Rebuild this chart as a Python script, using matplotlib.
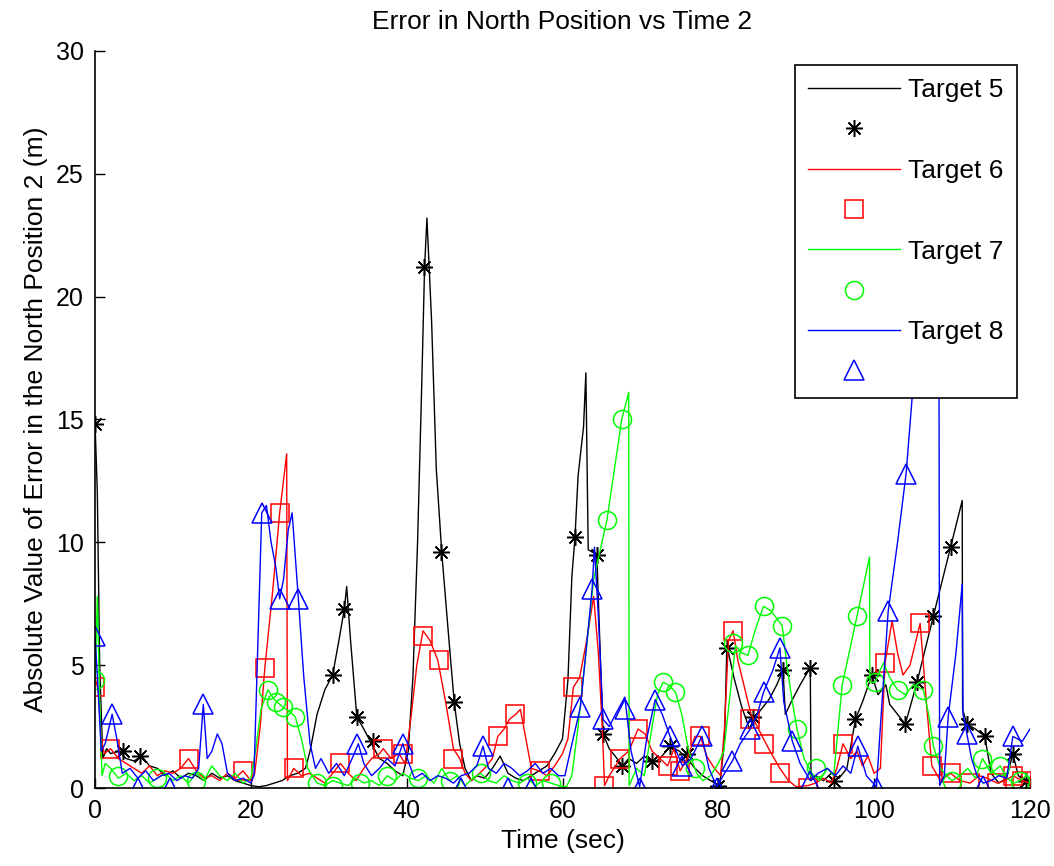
import matplotlib
matplotlib.use("Agg")
import matplotlib.pyplot as plt
from matplotlib.lines import Line2D

plt.rcParams['font.family'] = ['Liberation Sans', 'DejaVu Sans']

# Target 5 (black)
t5_time = [0, 0.3, 0.6, 1.0, 1.5, 2, 3, 4, 5, 6,
           7, 8, 9, 10, 11, 12, 13, 14, 15, 16,
           17, 18, 19, 20, 21, 22, 23, 24, 25, 26,
           27, 27.6, 28.5, 29.5, 30.5, 31.3, 32, 32.3, 32.8, 33.6,
           34.5, 35.5, 36.5, 37.5, 38.5, 39.5, 40.2, 40.8, 41.4, 41.9,
           42.3, 42.6, 43.2, 43.8, 44.5, 45.3, 46.1, 46.8, 47.5, 48.3,
           49, 50, 51, 52, 53, 54, 55, 56, 57, 58,
           59, 60, 60.7, 61.2, 61.6, 62, 62.7, 63.0, 63.3, 64.4,
           65.2, 66, 67, 67.7, 68.5, 69.5, 70.5, 71.5, 72.5, 73.8,
           75, 76, 77, 78, 79, 80.2, 80.8, 81.1, 82, 83,
           84, 84.5, 85.5, 86.5, 87.5, 88.3, 88.6, 89.5, 90.5, 91.8,
           91.9, 92.5, 93.5, 94.5, 95.5, 96.5, 97.6, 98.5, 99.7, 100.5,
           101.5, 102, 103, 104, 105.5, 107.6, 109.8, 111.3, 111.35, 111.9,
           113, 114.2, 115, 116, 117, 117.8, 118.5, 119.3, 120]
t5_err = [14.9, 12, 5, 1.2, 1.6, 1.4, 1.5, 1.2, 1.1, 1.3,
          0.9, 0.8, 0.5, 0.7, 0.4, 0.6, 0.5, 0.3, 0.6, 0.4,
          0.5, 0.3, 0.2, 0.1, 0.05, 0.1, 0.2, 0.3, 0.5, 0.6,
          0.8, 1.5, 3.0, 4.0, 4.6, 6.0, 7.3, 8.2, 6.0, 2.9,
          2.4, 1.8, 1.2, 1.0, 0.7, 0.5, 1.5, 4.5, 10, 16,
          21.2, 23.2, 19, 13, 9.6, 6.5, 3.5, 1.8, 0.8, 0.3,
          0.5, 0.4, 0.8, 1.3, 0.6, 0.4, 0.3, 0.5, 0.7, 0.9,
          1.4, 2.0, 4.4, 8.6, 10.2, 12.7, 14.7, 16.9, 9.7, 9.5,
          2.2, 1.6, 1.2, 0.9, 1.2, 1.0, 1.3, 1.0, 1.2, 1.7,
          1.5, 1.2, 0.8, 0.5, 0.3, 0.1, 2.0, 5.8, 4.5, 3.3,
          2.4, 2.8, 3.2, 3.6, 4.2, 4.8, 3.0, 3.6, 4.2, 4.9,
          0.3, 0.5, 0.3, 0.6, 0.4, 0.8, 2.8, 3.5, 4.6, 3.8,
          4.2, 3.4, 3.0, 2.6, 4.3, 7.0, 9.8, 11.7, 3.2, 2.6,
          2.4, 2.1, 0.6, 0.2, 0.4, 1.4, 0.5, 0.3, 0.2]
t5_mark_time = [0, 3.6, 5.8, 30.5, 32, 33.6, 35.7, 42.2, 44.4, 46.1,
                61.6, 64.4, 65.2, 67.7, 71.5, 73.8, 76, 80, 81.1, 84.5,
                88.3, 91.8, 94.8, 97.6, 99.7, 104, 105.5, 107.6, 109.8, 111.9,
                114.2, 117.8, 119.5]
t5_mark_err = [14.8, 1.5, 1.3, 4.6, 7.3, 2.9, 1.9, 21.2, 9.6, 3.5,
               10.2, 9.5, 2.2, 0.9, 1.1, 1.7, 1.4, 0.1, 5.7, 2.9,
               4.8, 4.9, 0.3, 2.8, 4.6, 2.6, 4.3, 7.0, 9.8, 2.6,
               2.1, 1.4, 0.3]

# Target 6 (red)
t6_time = [0, 0.4, 0.8, 1.2, 2, 3, 4, 5, 6, 7,
           8, 9, 10, 11, 12, 13, 14, 15, 16, 17,
           18, 19, 20, 20.5, 21.2, 21.8, 22.8, 23.7, 24.6, 24.7,
           25.5, 26.5, 27.5, 28.5, 29.5, 30.5, 31.5, 32.5, 33.5, 34.5,
           35.5, 36.5, 37, 38, 39, 39.8, 40.6, 41.3, 42.1, 43,
           44, 45, 46, 46.8, 47.5, 48.3, 49, 50, 51, 51.7,
           52.5, 53.2, 54, 54.6, 55.3, 56, 57, 58, 59, 60,
           60.7, 61.4, 62.2, 63.1, 64, 64.6, 65.1, 65.4, 66, 67.4,
           68.5, 69.7, 70.6, 71.5, 72.5, 73.5, 74.3, 75.1, 76, 77,
           77.7, 78.5, 79.5, 80.3, 80.8, 81.3, 81.9, 82.5, 83.2, 84.2,
           85.8, 86.8, 87.9, 89, 90, 91.5, 92.5, 93.5, 94.5, 95.2,
           96, 97, 97.8, 98.5, 99.2, 100, 100.8, 101.4, 102.3, 103,
           103.7, 104.6, 105.9, 106.7, 107.4, 108.5, 109.8, 111, 112.3, 113.5,
           114.5, 115.8, 116.8, 117.8, 119, 120]
t6_err = [4.5, 4.0, 2.0, 1.4, 1.6, 1.2, 1.0, 0.8, 0.6, 0.9,
          0.5, 0.7, 0.6, 0.8, 1.2, 0.7, 0.4, 0.5, 0.3, 0.6,
          0.4, 0.7, 0.3, 0.6, 2.5, 4.9, 8.0, 11.2, 13.6, 0.3,
          0.8, 0.5, 0.6, 0.4, 0.2, 0.6, 1.0, 0.6, 0.3, 0.8,
          1.2, 1.4, 1.6, 1.2, 1.4, 1.0, 3.0, 5.0, 6.4, 6.0,
          5.2, 3.5, 1.6, 1.2, 0.6, 0.3, 0.5, 0.8, 1.2, 2.1,
          2.4, 2.8, 3.0, 3.2, 2.0, 0.8, 0.7, 0.5, 0.9, 1.4,
          2.0, 4.1, 4.5, 6.0, 7.8, 5.5, 2.5, 0.1, 0.5, 1.2,
          1.5, 2.4, 2.2, 1.5, 1.2, 0.9, 1.6, 0.7, 1.2, 2.1,
          2.1, 1.3, 0.8, 0.5, 2.5, 6.0, 6.4, 5.2, 4.3, 3.0,
          2.0, 1.4, 0.8, 0.3, 0.05, 0.1, 0.2, 0.4, 0.2, 0.8,
          1.8, 1.2, 1.5, 0.9, 1.3, 0.6, 0.8, 5.1, 6.8, 5.5,
          4.6, 5.0, 6.7, 3.5, 0.9, 0.3, 0.6, 0.3, 0.2, 0.5,
          0.4, 0.2, 0.3, 0.5, 0.3, 0.2]
t6_mark_time = [0, 1.9, 12, 19, 21.8, 23.7, 25.5, 31.5, 37, 39.5,
                42.1, 44.2, 46, 51.7, 53.9, 57.1, 61.4, 65.3, 67.4, 69.7,
                73.5, 75.1, 77.7, 81.9, 84, 85.8, 87.9, 91.5, 96, 101.4,
                105.9, 107.4, 109.8, 112.3, 115.8, 117.8, 119]
t6_mark_err = [4.1, 1.6, 1.2, 0.7, 4.9, 11.2, 0.8, 1.0, 1.6, 1.4,
               6.2, 5.2, 1.2, 2.1, 3.0, 0.7, 4.1, 0.1, 1.2, 2.4,
               0.9, 0.7, 2.1, 6.4, 2.8, 1.8, 0.6, 0.0, 1.8, 5.1,
               6.7, 0.9, 0.6, 0.2, 0.2, 0.5, 0.3]

# Target 7 (green)
t7_time = [0, 0.3, 0.6, 0.9, 1.3, 2, 3, 4, 5, 6,
           7, 8, 9, 10, 11, 12, 13, 14, 15, 16,
           17, 18, 19, 20, 20.6, 21.3, 22.2, 23, 24.1, 25,
           25.7, 26.5, 27.3, 28.5, 29.5, 30.5, 31.5, 32.5, 33.5, 34.5,
           35.5, 36.5, 37.5, 38.5, 39.5, 40.5, 41.5, 42.5, 43.5, 44.5,
           45.5, 46.5, 47.5, 48.5, 49.5, 50.5, 51.5, 52.5, 53.5, 54.5,
           55.5, 56.5, 57.5, 58.5, 59.5, 60.5, 61.2, 62, 63, 64,
           65.7, 67.6, 68.5, 68.55, 69.5, 70.5, 71.5, 72.2, 72.9, 73.6,
           74.5, 75.3, 76.2, 77.2, 78, 79, 80, 80.7, 81.4, 82.2,
           83, 83.8, 84.8, 85.8, 86.8, 88.2, 88.8, 89.5, 90.1, 91,
           92, 93, 94, 94.8, 95.9, 97.8, 99.4, 99.45, 100.1, 101.2,
           102, 103, 104, 105, 106.3, 107, 107.6, 108.5, 109.3, 110,
           111, 112, 113, 113.9, 115, 116.2, 117, 118, 118.7, 119.5,
           120]
t7_err = [4.2, 7.8, 3.5, 0.5, 1.0, 0.8, 0.4, 0.6, 0.3, 0.5,
          0.2, 0.4, 0.6, 0.3, 0.5, 0.2, 0.6, 0.3, 0.9, 0.5,
          0.3, 0.6, 0.2, 0.4, 1.5, 3.2, 4.0, 3.6, 3.3, 3.1,
          2.9, 2.0, 0.8, 0.2, 0.1, 0.3, 0.2, 0.1, 0.4, 0.2,
          0.3, 0.1, 0.5, 0.3, 0.6, 0.4, 0.3, 0.5, 0.2, 0.8,
          0.3, 0.5, 0.1, 0.4, 0.6, 0.3, 0.2, 0.5, 0.3, 0.2,
          0.4, 0.1, 0.3, 0.2, 0.1, 0.05, 0.5, 2.5, 5.5, 8.5,
          10.9, 15.0, 16.1, 0.1, 0.8, 0.5, 2.5, 3.8, 4.3, 4.2,
          3.9, 3.0, 1.5, 0.6, 0.3, 0.5, 1.0, 1.5, 3.5, 5.8,
          5.5, 5.4, 6.5, 7.4, 7.2, 6.6, 5.0, 3.5, 2.4, 1.2,
          0.6, 0.3, 0.8, 0.5, 4.2, 7.0, 9.4, 4.3, 4.3, 5.1,
          4.5, 4.0, 3.8, 4.2, 4.0, 3.0, 1.7, 0.8, 0.5, 0.3,
          0.5, 0.8, 0.4, 1.2, 0.6, 0.9, 0.4, 0.2, 0.3, 0.5,
          0.4]
t7_mark_time = [0, 3, 8, 13, 22.2, 23.2, 24.1, 25.7, 28.5, 30.5,
                34, 37.5, 41.5, 45.5, 49.5, 55.5, 58.5, 65.7, 67.6, 72.9,
                74.5, 77, 81.9, 83.8, 85.8, 88.2, 90.1, 92.5, 95.9, 97.8,
                100.1, 103, 106.3, 107.6, 110, 113.9, 116.2, 118.7]
t7_mark_err = [4.4, 0.5, 0.4, 0.3, 4.0, 3.5, 3.3, 2.9, 0.2, 0.1,
               0.2, 0.5, 0.4, 0.3, 0.6, 0.2, 0.2, 10.9, 15.0, 4.3,
               3.9, 0.8, 5.9, 5.4, 7.4, 6.6, 2.4, 0.8, 4.2, 7.0,
               4.3, 4.0, 4.0, 1.7, 0.3, 1.2, 0.9, 0.3]

# Target 8 (blue)
t8_time = [0, 0.4, 0.8, 1.3, 2.2, 2.8, 3.5, 4.5, 5.5, 6.5,
           7.5, 8.5, 9.5, 10.5, 11.5, 12.5, 13.3, 13.9, 14.4, 15,
           15.7, 16.3, 17, 18, 19, 20, 20.4, 21, 21.4, 22,
           22.6, 23.2, 23.7, 24.2, 24.8, 25.3, 26.1, 26.8, 27.6, 28.3,
           29, 30, 31, 32, 33, 33.8, 34.5, 35.5, 36.5, 37.5,
           38.5, 39.5, 40.3, 41, 42, 43, 44, 45, 46, 47,
           48, 49, 49.8, 50.5, 51.5, 52.5, 53.5, 54.5, 55.5, 56.5,
           57.5, 58.5, 59.5, 60.3, 61, 62.3, 63, 63.8, 64.1, 64.6,
           65.2, 66, 66.8, 68, 68.8, 69.9, 70.8, 71.9, 72.8, 73.8,
           74.6, 75.4, 76.5, 77.9, 78.8, 79.8, 80.8, 81.8, 82.8, 84.1,
           85, 85.8, 87, 87.9, 88.4, 89.5, 90.5, 91.8, 92.8, 94,
           95, 96, 97, 97.9, 99, 100.3, 100.8, 101.8, 103, 104.1,
           104.9, 106.5, 108.3, 108.4, 109, 109.5, 110.5, 111.3, 111.4, 111.9,
           112.5, 113.2, 114, 115, 116, 117, 117.8, 119, 120]
t8_err = [6.2, 4.0, 1.5, 1.8, 3.0, 2.0, 0.6, 0.8, 0.4, 0.7,
          0.3, 0.5, 0.6, 0.3, 0.5, 0.4, 0.8, 3.4, 1.2, 1.5,
          2.2, 1.8, 0.6, 0.3, 0.4, 0.2, 0.5, 7.0, 11.2, 11.5,
          10.0, 9.0, 7.7, 8.5, 10.5, 11.2, 7.7, 4.5, 1.8, 0.8,
          1.2, 0.6, 1.0, 0.5, 1.2, 1.8, 1.0, 0.5, 0.8, 1.2,
          0.9, 1.8, 1.0, 0.4, 0.6, 0.3, 0.5, 0.4, 0.2, 0.5,
          0.6, 0.9, 1.7, 0.8, 0.6, 1.0, 0.8, 0.5, 0.7, 1.0,
          0.6, 0.8, 0.5, 0.5, 1.5, 3.3, 5.5, 8.1, 9.8, 7.0,
          2.8, 2.5, 3.0, 3.7, 1.5, 0.05, 2.0, 3.6, 3.0, 2.1,
          1.5, 0.9, 1.2, 2.1, 0.8, 0.05, 0.6, 1.1, 1.8, 2.4,
          3.0, 3.9, 4.8, 5.7, 3.5, 1.9, 1.0, 0.3, 0.6, 0.8,
          0.5, 0.9, 0.6, 1.7, 0.5, 0.05, 2.5, 7.2, 10.0, 12.8,
          16.0, 19.0, 22.0, 0.1, 0.5, 2.9, 5.5, 8.3, 3.0, 2.2,
          1.2, 0.5, 0.2, 0.3, 0.5, 0.4, 2.1, 1.9, 2.4]
t8_mark_time = [0, 2.2, 5.5, 9.6, 13.9, 21.4, 23.7, 26.1, 33.6, 39.5,
                47, 49.8, 53, 56, 62.3, 63.8, 65.2, 68, 69.9, 71.9,
                73.8, 75.4, 77.9, 79.8, 81.8, 84.1, 85.8, 87.9, 89.5, 91.8,
                97.9, 100.3, 101.8, 104.1, 109.5, 111.9, 114, 117.8]
t8_mark_err = [6.2, 3.0, 0.0, 0.0, 3.4, 11.2, 7.7, 7.7, 1.8, 1.8,
               0.0, 1.7, 0.0, 0.0, 3.3, 8.1, 2.8, 3.2, 0.0, 3.6,
               2.1, 0.9, 2.1, 0.0, 1.1, 2.4, 3.9, 5.7, 1.9, 0.3,
               1.7, 0.0, 7.2, 12.8, 2.9, 2.2, 0.1, 2.1]

labels = ["Target 5", "Target 6", "Target 7", "Target 8"]
colors = ["black", "red", "#00ff00", "blue"]
markers = [(8, 2, 0), "s", "o", "^"]
msizes = [12, 13, 13, 15]

series = [
    (t5_time, t5_err, t5_mark_time, t5_mark_err),
    (t6_time, t6_err, t6_mark_time, t6_mark_err),
    (t7_time, t7_err, t7_mark_time, t7_mark_err),
    (t8_time, t8_err, t8_mark_time, t8_mark_err),
]

fig = plt.figure(figsize=(10.54, 8.66), dpi=100)
ax = fig.add_axes([95 / 1054, 78 / 866, 935 / 1054, 737 / 866])

handles = []
legend_labels = []
for (t, e, mt, me), lab, c, m, ms in zip(series, labels, colors, markers, msizes):
    line, = ax.plot(t, e, color=c, lw=1.0)
    mk, = ax.plot(mt, me, linestyle="none", marker=m, markersize=ms,
                  markerfacecolor="none", markeredgecolor=c, markeredgewidth=1.1)
    handles += [line, mk]
    legend_labels += [lab, " "]

ax.set_xlim(0, 120)
ax.set_ylim(0, 30)
ax.set_xticks(range(0, 121, 20))
ax.set_yticks(range(0, 31, 5))
ax.spines["top"].set_visible(False)
ax.spines["right"].set_visible(False)
ax.spines["left"].set_linewidth(1.2)
ax.spines["bottom"].set_linewidth(1.2)
ax.tick_params(direction="in", length=7, width=1.0, labelsize=18, pad=8)

ax.set_title("Error in North Position vs Time 2", fontsize=19, pad=16)
ax.set_xlabel("Time (sec)", fontsize=19, labelpad=4)
ax.set_ylabel("Absolute Value of Error in the North Position 2 (m)", fontsize=19, labelpad=6)

leg = ax.legend(handles, legend_labels, loc="upper right",
                bbox_to_anchor=(0.986, 0.981), borderaxespad=0,
                fontsize=19, numpoints=1, handlelength=3.5, handletextpad=0.3,
                labelspacing=0.62, borderpad=0.5, fancybox=False, framealpha=1)
leg.get_frame().set_edgecolor("black")
leg.get_frame().set_linewidth(1.2)

fig.savefig("out.png", dpi=100)
